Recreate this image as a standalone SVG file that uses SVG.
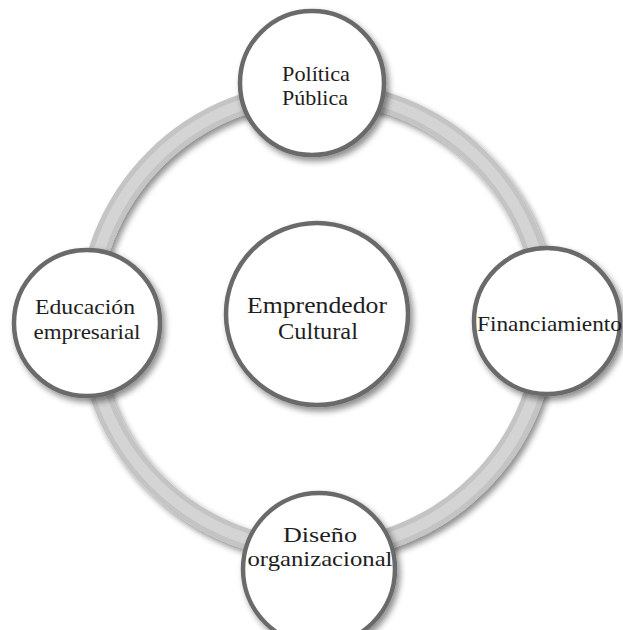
<svg xmlns="http://www.w3.org/2000/svg" width="623" height="630" viewBox="0 0 623 630">
  <defs>
    <filter id="shadow" x="-20%" y="-20%" width="140%" height="140%">
      <feGaussianBlur in="SourceAlpha" stdDeviation="3"/>
      <feOffset dx="3" dy="4" result="b"/>
      <feComponentTransfer><feFuncA type="linear" slope="0.45"/></feComponentTransfer>
      <feMerge><feMergeNode/><feMergeNode in="SourceGraphic"/></feMerge>
    </filter>
  </defs>
  <style>
    .node { fill: #ffffff; stroke: #6b6b6b; stroke-width: 4.5; }
    .lbl { font-family: "Liberation Serif", "Times New Roman", serif; font-size: 21px; fill: #1e1e1e; text-anchor: middle; }
    .big { font-size: 23px; }
  </style>
  <rect width="623" height="630" fill="#ffffff"/>
  <g id="connectors">
    <g filter="url(#shadow)">
      <circle cx="317" cy="321" r="229" fill="none" stroke="#c4c4c4" stroke-width="21"/>
      <circle cx="317" cy="321" r="229" fill="none" stroke="#d4d4d4" stroke-width="11"/>
    </g>
  </g>
  <g id="node-politica">
    <circle class="node" cx="312" cy="83" r="72" filter="url(#shadow)"/>
    <text class="lbl" x="316" y="81" textLength="68" lengthAdjust="spacingAndGlyphs">Política</text>
    <text class="lbl" x="315" y="105" textLength="66" lengthAdjust="spacingAndGlyphs">Pública</text>
  </g>
  <g id="node-educacion">
    <circle class="node" cx="87" cy="323" r="73" filter="url(#shadow)"/>
    <text class="lbl" x="85" y="314" textLength="100" lengthAdjust="spacingAndGlyphs">Educación</text>
    <text class="lbl" x="87" y="339" textLength="107" lengthAdjust="spacingAndGlyphs">empresarial</text>
  </g>
  <g id="node-financiamiento">
    <circle class="node" cx="547" cy="321" r="73" filter="url(#shadow)"/>
    <text class="lbl" x="549.5" y="331" textLength="145" lengthAdjust="spacingAndGlyphs">Financiamiento</text>
  </g>
  <g id="node-diseno">
    <circle class="node" cx="319" cy="569" r="76" filter="url(#shadow)"/>
    <text class="lbl" x="320" y="542" textLength="74" lengthAdjust="spacingAndGlyphs">Diseño</text>
    <text class="lbl" x="320" y="566" textLength="145" lengthAdjust="spacingAndGlyphs">organizacional</text>
  </g>
  <g id="node-emprendedor">
    <circle class="node" cx="317" cy="314" r="91" filter="url(#shadow)"/>
    <text class="lbl big" x="317" y="313" textLength="140" lengthAdjust="spacingAndGlyphs">Emprendedor</text>
    <text class="lbl big" x="318" y="339" textLength="80" lengthAdjust="spacingAndGlyphs">Cultural</text>
  </g>
</svg>
